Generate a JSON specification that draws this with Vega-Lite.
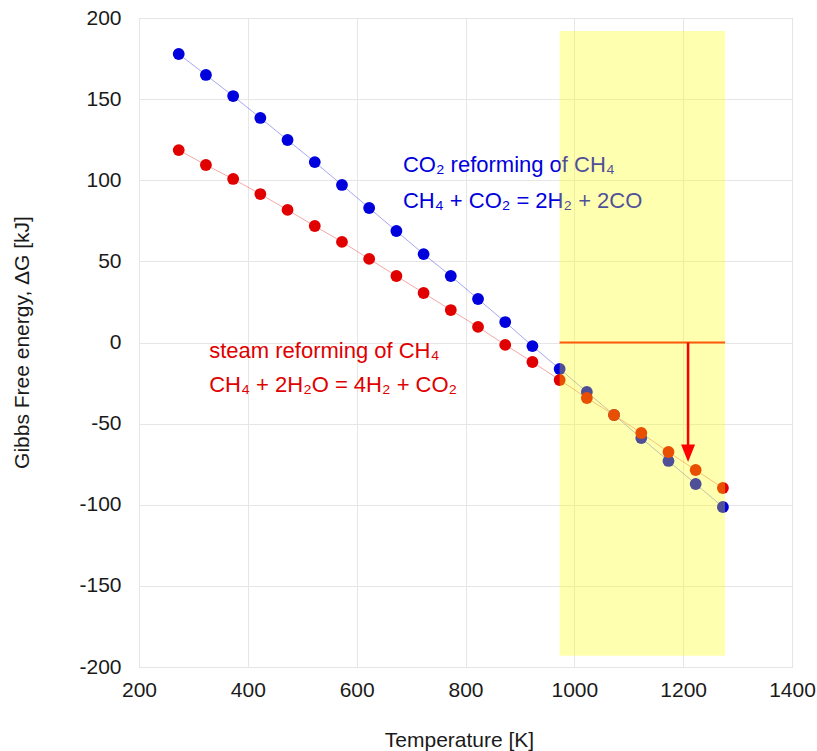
{
  "$schema": "https://vega.github.io/schema/vega-lite/v6.json",
  "width": 653,
  "height": 649,
  "autosize": "none",
  "padding": {"left": 139, "top": 18, "right": 25, "bottom": 84},
  "background": "white",
  "config": {"view": {"stroke": "#b4b4b4", "strokeWidth": 1}, "font": "Liberation Sans"},
  "datasets": {
    "gibbs": [
      {"T": 273, "dG": 177.8, "reaction": "CO2"},
      {"T": 323, "dG": 164.9, "reaction": "CO2"},
      {"T": 373, "dG": 151.9, "reaction": "CO2"},
      {"T": 423, "dG": 138.4, "reaction": "CO2"},
      {"T": 473, "dG": 124.8, "reaction": "CO2"},
      {"T": 523, "dG": 111.2, "reaction": "CO2"},
      {"T": 573, "dG": 97.1, "reaction": "CO2"},
      {"T": 623, "dG": 82.9, "reaction": "CO2"},
      {"T": 673, "dG": 68.7, "reaction": "CO2"},
      {"T": 723, "dG": 54.5, "reaction": "CO2"},
      {"T": 773, "dG": 41.0, "reaction": "CO2"},
      {"T": 823, "dG": 26.8, "reaction": "CO2"},
      {"T": 873, "dG": 12.6, "reaction": "CO2"},
      {"T": 923, "dG": -2.2, "reaction": "CO2"},
      {"T": 973, "dG": -16.3, "reaction": "CO2"},
      {"T": 1023, "dG": -30.5, "reaction": "CO2"},
      {"T": 1073, "dG": -44.7, "reaction": "CO2"},
      {"T": 1123, "dG": -58.9, "reaction": "CO2"},
      {"T": 1173, "dG": -73.0, "reaction": "CO2"},
      {"T": 1223, "dG": -87.2, "reaction": "CO2"},
      {"T": 1273, "dG": -101.4, "reaction": "CO2"},
      {"T": 273, "dG": 118.6, "reaction": "steam"},
      {"T": 323, "dG": 109.4, "reaction": "steam"},
      {"T": 373, "dG": 100.8, "reaction": "steam"},
      {"T": 423, "dG": 91.5, "reaction": "steam"},
      {"T": 473, "dG": 81.7, "reaction": "steam"},
      {"T": 523, "dG": 71.8, "reaction": "steam"},
      {"T": 573, "dG": 62.0, "reaction": "steam"},
      {"T": 623, "dG": 51.5, "reaction": "steam"},
      {"T": 673, "dG": 41.0, "reaction": "steam"},
      {"T": 723, "dG": 30.5, "reaction": "steam"},
      {"T": 773, "dG": 20.0, "reaction": "steam"},
      {"T": 823, "dG": 9.6, "reaction": "steam"},
      {"T": 873, "dG": -1.5, "reaction": "steam"},
      {"T": 923, "dG": -12.0, "reaction": "steam"},
      {"T": 973, "dG": -23.1, "reaction": "steam"},
      {"T": 1023, "dG": -34.2, "reaction": "steam"},
      {"T": 1073, "dG": -44.7, "reaction": "steam"},
      {"T": 1123, "dG": -55.8, "reaction": "steam"},
      {"T": 1173, "dG": -67.5, "reaction": "steam"},
      {"T": 1223, "dG": -78.6, "reaction": "steam"},
      {"T": 1273, "dG": -89.7, "reaction": "steam"}
    ],
    "labels": [
      {"T": 685, "dG": 109.4, "text": "CO₂ reforming of CH₄", "reaction": "CO2"},
      {"T": 685, "dG": 87.2, "text": "CH₄ + CO₂ = 2H₂ + 2CO", "reaction": "CO2"},
      {"T": 329, "dG": -5.2, "text": "steam reforming of CH₄", "reaction": "steam"},
      {"T": 329, "dG": -26.2, "text": "CH₄ + 2H₂O = 4H₂ + CO₂", "reaction": "steam"}
    ],
    "band": [{"T": 973, "T2": 1277, "dG": -193, "dG2": 192}],
    "hline": [{"T": 973, "T2": 1277, "dG": 0}],
    "arrow": [{"T": 1209, "dG": 0, "dG2": -64}],
    "head": [{"T": 1209, "dG": -68}]
  },
  "encoding": {
    "x": {
      "field": "T", "type": "quantitative",
      "scale": {"domain": [200, 1400], "nice": false, "zero": false},
      "axis": {
        "title": "Temperature [K]", "values": [200, 400, 600, 800, 1000, 1200, 1400],
        "labelExpr": "datum.value + ''",
        "grid": true, "gridColor": "#e6e6e6", "domain": false, "ticks": false,
        "labelFontSize": 21, "labelColor": "#1a1a1a", "labelPadding": 12, "labelFlush": false, "labelOverlap": false,
        "titleFontSize": 21, "titleFontWeight": "normal", "titleColor": "#1a1a1a",
        "titleX": 320, "titleY": 73, "titleBaseline": "middle", "titleAlign": "center"
      }
    },
    "y": {
      "field": "dG", "type": "quantitative",
      "scale": {"domain": [-200, 200], "nice": false, "zero": false},
      "axis": {
        "title": "Gibbs Free energy, ΔG [kJ]", "values": [-200, -150, -100, -50, 0, 50, 100, 150, 200],
        "labelExpr": "datum.value + ''",
        "grid": true, "gridColor": "#e6e6e6", "domain": false, "ticks": false,
        "labelFontSize": 21, "labelColor": "#1a1a1a", "labelPadding": 18, "labelFlush": false, "labelOverlap": false,
        "titleFontSize": 21, "titleFontWeight": "normal", "titleColor": "#1a1a1a",
        "titleX": -117, "titleY": 324, "titleBaseline": "middle", "titleAlign": "center", "titleAngle": -90
      }
    }
  },
  "layer": [
    {
      "data": {"name": "gibbs"},
      "mark": {"type": "line", "strokeWidth": 1, "opacity": 0.35},
      "encoding": {
        "color": {"field": "reaction", "type": "nominal", "scale": {"domain": ["CO2", "steam"], "range": ["#0000dd", "#e00000"]}, "legend": null}
      }
    },
    {
      "data": {"name": "gibbs"},
      "mark": {"type": "point", "filled": true, "size": 140, "opacity": 1},
      "encoding": {
        "color": {"field": "reaction", "type": "nominal", "scale": {"domain": ["CO2", "steam"], "range": ["#0000dd", "#e00000"]}, "legend": null}
      }
    },
    {
      "data": {"name": "labels"},
      "mark": {"type": "text", "align": "left", "baseline": "middle", "fontSize": 22, "font": "Liberation Sans"},
      "encoding": {
        "text": {"field": "text"},
        "color": {"field": "reaction", "type": "nominal", "scale": {"domain": ["CO2", "steam"], "range": ["#1010d0", "#e01010"]}, "legend": null}
      }
    },
    {
      "data": {"name": "hline"},
      "mark": {"type": "rule", "color": "#ff1010", "strokeWidth": 2},
      "encoding": {"x2": {"field": "T2"}}
    },
    {
      "data": {"name": "band"},
      "mark": {"type": "rect", "color": "#ffff00", "opacity": 0.31},
      "encoding": {"x2": {"field": "T2"}, "y2": {"field": "dG2"}}
    },
    {
      "data": {"name": "arrow"},
      "mark": {"type": "rule", "color": "#ff0000", "strokeWidth": 2.5},
      "encoding": {"y2": {"field": "dG2"}}
    },
    {
      "data": {"name": "head"},
      "mark": {"type": "point", "filled": true, "opacity": 1, "color": "#ff0000", "size": 196, "shape": "M-1,-1.2L1,-1.2L0,1.3Z"},
      "encoding": {}
    }
  ]
}
